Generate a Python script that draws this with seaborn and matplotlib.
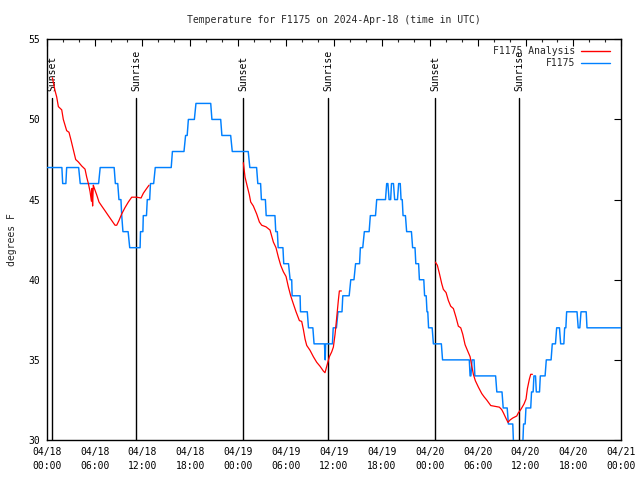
import numpy as np
import pandas as pd
import matplotlib
matplotlib.use("Agg")
import matplotlib.pyplot as plt
import matplotlib.dates as mdates
from matplotlib.lines import Line2D
import seaborn as sns

START = pd.Timestamp("2024-04-18 00:00")
TITLE = "Temperature for F1175 on 2024-Apr-18 (time in UTC)"

# Observed F1175 temperature (hours after 04/18 00:00 UTC, deg F)
obs_hours = [0.0, 1.9, 2.0, 2.4, 2.5, 4.0, 4.2, 6.5, 6.7, 8.45, 8.6, 8.9, 9.05, 9.3, 9.4, 9.55,
             10.2, 10.4, 11.7, 11.75, 12.05, 12.1, 12.5, 12.6, 12.9, 13.0, 13.4, 13.6, 15.6,
             15.75, 17.2, 17.4, 17.6, 17.75, 18.5, 18.7, 20.55, 20.7, 21.8, 21.95, 23.05, 23.25,
             25.25, 25.45, 26.3, 26.45, 26.8, 26.9, 27.4, 27.5, 28.6, 28.7, 28.9, 29.0, 29.6,
             29.7, 30.3, 30.5, 30.7, 30.75, 31.75, 31.8, 32.65, 32.8, 33.35, 33.5, 34.8, 34.9,
             34.95, 35.8, 35.9, 36.3, 36.5, 37.0, 37.1, 37.9, 38.1, 38.5, 38.7, 39.2, 39.3, 39.6,
             39.8, 40.4, 40.55, 41.2, 41.35, 42.45, 42.6, 42.75, 42.9, 43.1, 43.2, 43.45, 43.6,
             43.95, 44.1, 44.3, 44.4, 44.55, 44.65, 44.95, 45.1, 45.7, 45.85, 46.15, 46.25, 46.6,
             46.7, 47.25, 47.35, 47.55, 47.65, 47.75, 47.85, 48.3, 48.45, 49.45, 49.6, 52.95,
             53.05, 53.15, 53.3, 53.55, 53.65, 56.25, 56.4, 57.05, 57.2, 57.7, 57.85, 58.4, 58.55,
             59.6, 59.75, 59.95, 60.05, 60.65, 60.75, 60.95, 61.05, 61.25, 61.35, 61.75, 61.85,
             62.45, 62.6, 63.2, 63.35, 63.75, 63.9, 64.25, 64.4, 64.8, 64.9, 65.05, 65.15, 66.45,
             66.6, 66.8, 66.95, 67.6, 67.7, 71.9]
obs_temps = [47, 47, 46, 46, 47, 47, 46, 46, 47, 47, 46, 46, 45, 45, 44, 43,
             43, 42, 42, 43, 43, 44, 44, 45, 45, 46, 46, 47, 47,
             48, 48, 49, 49, 50, 50, 51, 51, 50, 50, 49, 49, 48,
             48, 47, 47, 46, 46, 45, 45, 44, 44, 43, 43, 42, 42,
             41, 41, 40, 40, 39, 39, 38, 38, 37, 37, 36, 36, 35,
             36, 36, 37, 37, 38, 38, 39, 39, 40, 40, 41, 41, 42, 42,
             43, 43, 44, 44, 45, 45, 46, 46, 45, 45, 46, 46, 45,
             45, 46, 46, 45, 45, 44, 44, 43, 43, 42, 42, 41, 41,
             40, 40, 39, 39, 38, 38, 37, 37, 36, 36, 35, 35,
             34, 34, 35, 35, 34, 34, 33, 33, 32, 32, 31, 31, 29,
             29, 31, 31, 32, 32, 33, 33, 34, 34, 33, 33, 34,
             34, 35, 35, 36, 36, 37, 37, 36, 36, 37, 37, 38, 38,
             37, 37, 38, 38, 37, 37]

# F1175 Analysis, three segments
ana1_hours = [0.71, 1.04, 1.25, 1.46, 1.88, 2.08, 2.5, 2.79, 3.05, 3.34, 3.63, 3.96, 4.38, 4.8,
              5.01, 5.22, 5.43, 5.6, 5.68, 5.75, 5.84, 5.97, 6.26, 6.55, 6.89, 7.31, 7.72, 8.14,
              8.56, 8.77, 9.06, 9.39, 9.81, 10.23, 10.65, 11.27, 11.82, 12.11, 12.53, 12.82]
ana1_temps = [52.6, 51.8, 51.4, 50.8, 50.6, 50.0, 49.3, 49.2, 48.7, 48.1, 47.5, 47.35, 47.1, 46.9,
              46.4, 46.0, 45.5, 44.9, 45.7, 44.6, 45.9, 45.7, 45.3, 44.85, 44.6, 44.3, 44.0, 43.7,
              43.4, 43.4, 43.7, 44.1, 44.5, 44.85, 45.15, 45.15, 45.1, 45.4, 45.7, 45.9]
ana2_hours = [24.64, 24.85, 25.14, 25.39, 25.56, 25.89, 26.31, 26.65, 26.94, 27.48, 27.98, 28.4,
              28.73, 29.03, 29.32, 29.65, 29.99, 30.28, 30.57, 30.9, 31.24, 31.66, 31.95, 32.16,
              32.37, 32.58, 32.99, 33.41, 33.83, 34.25, 34.67, 34.87, 35.17, 35.42, 35.71, 35.92,
              36.13, 36.34, 36.54, 36.67, 36.92]
ana2_temps = [47.3, 46.4, 45.8, 45.3, 44.85, 44.6, 44.1, 43.6, 43.4, 43.3, 43.1, 42.35,
              42.0, 41.4, 40.9, 40.5, 40.2, 39.55, 39.0, 38.5, 38.0, 37.45, 37.4, 36.9,
              36.3, 35.9, 35.6, 35.2, 34.85, 34.6, 34.3, 34.2, 34.75, 35.2, 35.5, 35.8,
              36.6, 37.65, 38.7, 39.3, 39.3]
ana3_hours = [48.7, 48.95, 49.2, 49.5, 49.7, 50.04, 50.33, 50.62, 50.96, 51.29, 51.58, 51.88,
              52.13, 52.42, 52.71, 53.05, 53.25, 53.46, 53.71, 54.09, 54.51, 54.8, 55.13, 55.64,
              56.18, 56.72, 57.01, 57.22, 57.55, 57.8, 58.06, 58.39, 58.9, 59.1, 59.31, 59.52,
              59.81, 60.06, 60.23, 60.48, 60.65, 60.86]
ana3_temps = [41.1, 40.9, 40.4, 39.75, 39.4, 39.2, 38.7, 38.35, 38.2, 37.65, 37.1, 37.0,
              36.6, 35.95, 35.6, 35.2, 34.65, 34.1, 33.7, 33.3, 32.9, 32.7, 32.5, 32.15,
              32.1, 32.05, 31.9, 31.7, 31.35, 31.1, 31.25, 31.37, 31.5, 31.7, 31.83, 32.0,
              32.25, 32.56, 33.2, 33.8, 34.1, 34.1]

sun_labels = ["Sunset", "Sunrise", "Sunset", "Sunrise", "Sunset", "Sunrise"]
sun_hours = [0.70, 11.23, 24.64, 35.29, 48.70, 59.20]

y_ticks = [30, 35, 40, 45, 50, 55]

RED = "#ff0000"
BLUE = "#0080ff"

def to_time(h):
    return START + pd.to_timedelta(np.asarray(h, dtype=float), unit="h")

obs_df = pd.DataFrame({"time": to_time(obs_hours), "temp": obs_temps})
ana_df = pd.concat([
    pd.DataFrame({"time": to_time(h), "temp": t, "seg": i})
    for i, (h, t) in enumerate([(ana1_hours, ana1_temps), (ana2_hours, ana2_temps),
                                (ana3_hours, ana3_temps)])
], ignore_index=True)

sns.set_style("white")
plt.rcParams["font.family"] = ["DejaVu Sans Mono", "DejaVu Sans"]
plt.rcParams["font.size"] = 7

fig = plt.figure(figsize=(6.4, 4.8), dpi=100)
ax = fig.add_axes([0.073, 0.0833, 0.8978, 0.8348])

sns.lineplot(data=obs_df, x="time", y="temp", color=BLUE, lw=1.05, estimator=None,
             sort=False, ax=ax, legend=False, zorder=3)
sns.lineplot(data=ana_df, x="time", y="temp", units="seg", estimator=None, sort=False,
             color=RED, lw=0.9, ax=ax, legend=False, zorder=4)

trans = ax.get_xaxis_transform()
for lab, h in zip(sun_labels, sun_hours):
    t = to_time([h])[0]
    ax.axvline(t, ymin=0, ymax=0.853, color="black", lw=1.0, zorder=2)
    ax.text(t, 0.87, lab, rotation=90, ha="center", va="bottom", transform=trans,
            fontsize=7, color="black")

ax.set_xlim(START, START + pd.Timedelta(hours=72))
ax.set_ylim(30, 55)
ax.set_yticks(y_ticks)
ax.xaxis.set_major_locator(mdates.HourLocator(byhour=[0, 6, 12, 18]))
ax.xaxis.set_minor_locator(mdates.HourLocator(byhour=list(range(0, 24, 2))))
ax.xaxis.set_major_formatter(mdates.DateFormatter("%m/%d\n%H:%M"))
for lbl in ax.get_xticklabels():
    lbl.set_linespacing(1.5)

ax.tick_params(which="major", direction="in", length=5, width=0.8, top=True, right=True,
               labelsize=7, colors="black", pad=5)
ax.tick_params(which="minor", direction="in", length=2.5, width=0.8, top=True, right=True)
ax.tick_params(axis="y", which="minor", left=False, right=False)
for s in ax.spines.values():
    s.set_color("black")
    s.set_linewidth(1.0)
ax.grid(False)

ax.set_xlabel("")
ax.set_ylabel("degrees F", fontsize=7, labelpad=8)
ax.set_title(TITLE, fontsize=7, pad=12)

# legend (gnuplot style: right-aligned text, sample line at right)
leg_items = [("F1175 Analysis", RED), ("F1175", BLUE)]
for i, (name, col) in enumerate(leg_items):
    yy = 0.972 - i * 0.032
    ax.text(0.919, yy, name, ha="right", va="center", transform=ax.transAxes, fontsize=7)
    ax.add_line(Line2D([0.930, 0.981], [yy, yy], color=col, lw=1.0,
                       transform=ax.transAxes))

fig.savefig("out.png", dpi=100)
